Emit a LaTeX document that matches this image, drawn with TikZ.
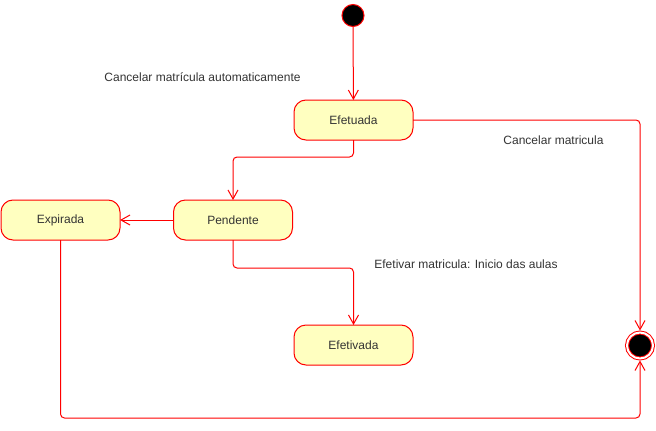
\documentclass[tikz,border=0pt]{standalone}
\usepackage{fontspec}
\setmainfont{Liberation Sans}
\usetikzlibrary{arrows.meta}
\definecolor{statefill}{HTML}{FFFFC0}
\definecolor{statetext}{HTML}{333333}

\begin{document}
\begin{tikzpicture}[x=1pt,y=-1pt,inner sep=0pt,outer sep=0pt,line width=1pt,
>={Straight Barb[length=9pt,width=10pt]},
font=\fontsize{12}{14}\selectfont,text=statetext,
state/.style={draw=red,fill=statefill,rectangle,rounded corners=12pt,minimum width=119pt,minimum height=40pt},
startstate/.style={draw=red,fill=black,circle,minimum size=22pt},
endstate/.style={draw=red,fill=black,circle,minimum size=26pt,double=white,double distance=2pt,outer sep=2pt},
trans/.style={draw=red,->,rounded corners=4pt},
guard/.style={inner sep=1pt}]

\useasboundingbox (0,0) rectangle (656,431);

\draw (353,15.5) node[startstate] (start) {};
\draw (353.5,120) node[state] (efetuada) {Efetuada};
\draw (233,220) node[state] (pendente) {Pendente};
\draw (60.5,220) node[state] (expirada) {Expirada};
\draw (353.5,345) node[state] (efetivada) {Efetivada};
\draw (640,345.5) node[endstate] (fim) {};

\draw (202.5,77) node[guard] (lblauto) {Cancelar matrícula automaticamente};
\draw (553.5,140) node[guard] (lblcancel) {Cancelar matricula};
\draw (466,264.5) node[guard] (lblefetivar) {Efetivar matricula: Inicio das aulas};

\draw[trans] (start) -- (efetuada);
\draw[trans] (efetuada.south) -- ++(0,17) -| (pendente.north);
\draw[trans] (pendente.west) -- (expirada.east);
\draw[trans] (pendente.south) -- ++(0,28) -| (efetivada.north);
\draw[trans] (efetuada.east) -| (fim.north);
\draw[trans] (expirada.south) -- ++(0,178) -| (fim.south);
\end{tikzpicture}
\end{document}
